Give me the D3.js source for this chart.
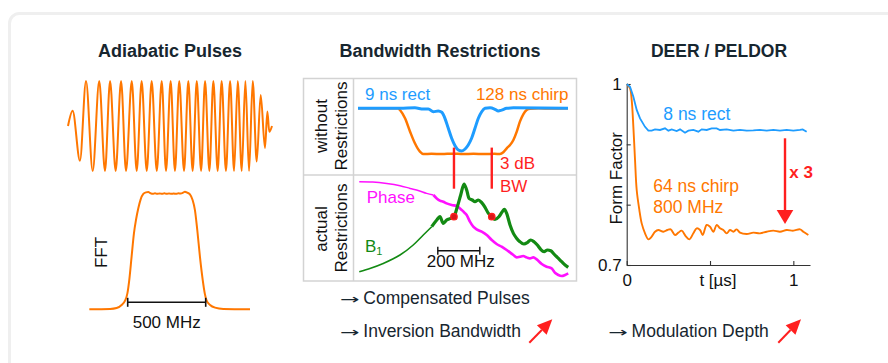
<!DOCTYPE html>
<html>
<head>
<meta charset="utf-8">
<script src="https://cdn.jsdelivr.net/npm/d3@7"></script>
<style>
  html, body { margin: 0; padding: 0; background: #ffffff; }
  svg { display: block; font-family: "Liberation Sans", Arial, Helvetica, sans-serif; }
</style>
</head>
<body>
<svg id="fig" width="888" height="363"></svg>
<script>
// ---------- Adiabatic pulse: waveform extrema (time in ns, normalised amplitude)
const pulseT = [0, 2.9, 7.5,
  11.3, 15.5, 19.6, 23.2, 26.4, 29.9, 33.3, 36.4, 40.0, 43.1, 46.2, 49.4, 52.5, 55.7, 58.8, 61.5,
  64.4, 67.1, 69.8, 72.8, 75.5, 78.2, 80.8, 83.5, 86.0, 88.7, 91.2, 93.9, 96.4, 99.1, 101.7, 104.2,
  106.5, 109.0, 111.3, 113.6, 115.9,
  118.4, 120.9, 123.6, 125.1, 126.3, 128];
const pulseAmp = [0, 0.34, -0.77,
  1, -1, 1, -1, 1, -1, 1, -1, 1, -1, 1, -1, 1, -1, 1, -1,
  1, -1, 1, -1, 1, -1, 1, -1, 1, -1, 1, -1, 1, -1, 1, -1,
  1, -1, 1, -1, 1,
  -0.79, 0.69, -0.49, 0.32, -0.13, 0];

// ---------- FFT of the pulse (MHz, normalised magnitude)
const fftFreq = [-496, -363, -321, -289, -267, -252, -240, -225, -210, -197,
  -182, -167, -150, -133, -118, -103, -90, -75, -60, -45,
  -30, -15, 0, 15, 30, 45, 60, 75, 90, 105,
  117, 132, 149, 166, 181, 196, 213, 231, 244, 256,
  278, 310, 363, 534];
const fftAmp = [0, 0.003, 0.011, 0.037, 0.074, 0.137, 0.251, 0.452, 0.652, 0.766,
  0.866, 0.943, 0.989, 1.003, 1.006, 0.995, 0.99, 0.995, 0.99, 0.994,
  0.99, 0.995, 0.99, 0.994, 0.99, 0.993, 0.99, 0.995, 0.993, 1.0,
  1.009, 1.0, 0.986, 0.937, 0.851, 0.68, 0.452, 0.251, 0.137, 0.074,
  0.037, 0.014, 0.003, 0];
const fftBar = [-250, 250];           // 500 MHz bar

// ---------- Inversion profiles without restrictions (MHz offset, Mz)
const rectProfF = [-500, -300, -229, -189, -165, -141, -118, -101, -86, -70,
  -54, -38, -22, -6, 10, 25, 41, 57, 73, 89,
  105, 129, 152, 168, 184, 208, 240, 500];
const rectProfMz = [1, 1, 1.02, 0.97, 0.97, 0.85, 0.88, 0.825, 0.562, 0.125,
  -0.313, -0.637, -0.825, -0.869, -0.781, -0.606, -0.313, 0.125, 0.562, 0.85,
  1.0, 1.02, 0.956, 0.88, 0.92, 1.0, 1.02, 1.0];
const chirpProfF = [-500, -308, -300, -276, -252, -229, -205, -189, -150, -100,
  -50, 0, 50, 100, 150, 176, 192, 208, 224, 240,
  256, 271, 287, 303, 319, 360, 420, 500];
const chirpProfMz = [1, 1, 0.926, 0.562, -0.024, -0.532, -0.9, -1, -0.99, -1,
  -0.985, -1, -0.99, -1, -0.99, -1, -0.926, -0.75, -0.606, -0.387,
  -0.024, 0.414, 0.737, 0.926, 0.98, 1, 0.99, 1];

// ---------- Actual restrictions: phase and B1 (MHz offset, relative level)
const phaseF = [-494, -430, -363, -300, -252, -210, -173, -141, -125, -110,
  -94, -78, -54, -30, -14, 2, 17.5, 33, 49, 65,
  89, 113, 137, 160, 184, 208, 240, 256, 271, 287,
  303, 319, 335, 351, 375, 398, 422, 438, 454, 470,
  486, 501];
const phaseVal = [95, 94.7, 93.3, 91, 88.3, 86, 83.3, 81.7, 78.3, 76,
  75, 73.3, 71.7, 70.7, 68.3, 65, 61.7, 55, 50, 47.3,
  45, 41.7, 36.7, 32.7, 30, 26.7, 21.7, 19.3, 20, 20.7,
  19.3, 18.3, 19.3, 17.3, 12.7, 10, 8.3, 4, 1.7, 0.7,
  1.7, 3.3];
const b1F = [-494, -440, -380, -300, -237, -189, -149, -125, -110, -94,
  -78, -59, -43, -27, -11, 5, 17.5, 28.6, 44, 57,
  73, 89, 105, 121, 137, 152, 171, 187, 197, 208,
  224, 240, 256, 271, 290, 306, 322, 338, 354, 370,
  386, 402, 418, 433, 449, 470, 486, 501];
const b1Val = [5, 8.5, 13.3, 21.7, 31.7, 41.7, 50, 56.7, 60, 53.3,
  56.7, 58.3, 60, 70, 81.7, 92.7, 86.7, 78.3, 76.7, 75,
  76.7, 74, 69.3, 63.3, 60, 57.3, 60, 65, 67.3, 63.3,
  51.7, 43.3, 38.3, 35, 32.7, 34, 36.7, 35, 31.7, 27.3,
  25, 26.7, 26, 22.7, 19.3, 15, 11.7, 9.3];
const bwEdges = [-43, 137];          // 3 dB bandwidth edges
const scaleBar = [-120, 80];         // 200 MHz bar

// ---------- DEER form factors (time in µs)
const rectDeerT = [0, 0.02, 0.04, 0.06, 0.08, 0.11, 0.13, 0.15, 0.17, 0.20,
  0.23, 0.25, 0.27, 0.30, 0.32, 0.35, 0.37, 0.40, 0.43, 0.45,
  0.48, 0.51, 0.54, 0.56, 0.60, 0.64, 0.68, 0.72, 0.76, 0.80,
  0.84, 0.88, 0.92, 0.96, 1.00, 1.04, 1.056, 1.08];
const rectDeerF = [1.0, 0.9955, 0.979, 0.957, 0.943, 0.929, 0.9226, 0.9226, 0.9248, 0.9238,
  0.9265, 0.9226, 0.9248, 0.922, 0.9248, 0.9193, 0.9226, 0.9238, 0.921, 0.9248,
  0.9238, 0.9265, 0.9265, 0.9238, 0.9248, 0.9226, 0.9238, 0.9226, 0.923, 0.9238,
  0.9226, 0.9238, 0.9226, 0.9238, 0.9226, 0.9238, 0.9248, 0.921];
const chirpDeerT = [0, 0.02, 0.03, 0.04, 0.05, 0.06, 0.076, 0.09, 0.11, 0.13,
  0.15, 0.17, 0.19, 0.22, 0.244, 0.264, 0.29, 0.31, 0.33, 0.356,
  0.376, 0.40, 0.42, 0.44, 0.456, 0.48, 0.50, 0.52, 0.54, 0.56,
  0.58, 0.60, 0.62, 0.64, 0.66, 0.68, 0.72, 0.76, 0.80, 0.84,
  0.88, 0.92, 0.96, 1.00, 1.04, 1.06, 1.09];
const chirpDeerF = [1.0, 0.9927, 0.9734, 0.929, 0.874, 0.8243, 0.7911, 0.769, 0.7525, 0.7425,
  0.747, 0.7552, 0.758, 0.7552, 0.758, 0.7591, 0.7497, 0.7536, 0.7569, 0.747,
  0.7425, 0.7525, 0.7608, 0.758, 0.7497, 0.7663, 0.7635, 0.7552, 0.7663, 0.7608,
  0.758, 0.7525, 0.758, 0.7552, 0.7591, 0.7536, 0.7514, 0.7536, 0.7525, 0.7552,
  0.7569, 0.7552, 0.758, 0.7569, 0.7591, 0.7552, 0.7497];
const deerYTicks = [0.7, 0.8, 0.9, 1];
const deerXTicks = [0, 0.5, 1];

// ---------- colours
const ORANGE = "#ff7700", BLUE = "#1e9cff", MAGENTA = "#ff10ff",
      GREEN = "#138a13", RED = "#ff1f1f", INK = "#17262f", BLACK = "#111";

const svg = d3.select("#fig");
const zip = (a, b) => a.map((v, i) => [v, b[i]]);

function label(x, y, str, o = {}) {
  const t = svg.append("text")
    .attr("x", x).attr("y", y)
    .attr("font-size", o.size || 17)
    .attr("font-weight", o.bold ? "bold" : "normal")
    .attr("fill", o.fill || BLACK)
    .attr("text-anchor", o.anchor || "start")
    .text(str);
  if (o.rotate) t.attr("x", 0).attr("y", 0).attr("transform", `translate(${x},${y}) rotate(-90)`);
  return t;
}

// conclusion line: a long thin arrow glyph followed by the statement
function conclusion(x, y, str) {
  const arrow = svg.append("text")
    .attr("font-family", "DejaVu Sans").attr("font-size", 14).attr("fill", INK)
    .text("\u2192");
  const w = arrow.node().getComputedTextLength() || 11.7;
  arrow.attr("transform", `translate(${x},${y - 0.5}) scale(${19.5 / w},1)`);
  label(x + 23.3, y, str, { size: 17.5, fill: INK });
}

// card outline
svg.append("rect")
  .attr("x", 9.5).attr("y", 13.5).attr("width", 920).attr("height", 420).attr("rx", 10)
  .attr("fill", "#ffffff").attr("stroke", "#efefef").attr("stroke-width", 3);

// ================= Panel 1: adiabatic pulse + FFT
label(170, 56.5, "Adiabatic Pulses", { size: 18, bold: true, fill: INK, anchor: "middle" });

const px = d3.scaleLinear().domain([0, 128]).range([68, 272]);
const py = d3.scaleLinear().domain([-1, 1]).range([171, 81]);
svg.append("path")
  .attr("d", d3.line().x(d => px(d[0])).y(d => py(d[1])).curve(d3.curveMonotoneX)(zip(pulseT, pulseAmp)))
  .attr("fill", "none").attr("stroke", ORANGE).attr("stroke-width", 2);

const fx = d3.scaleLinear().domain([-500, 500]).range([88.7, 244.7]);
const fy = d3.scaleLinear().domain([0, 1]).range([309.3, 192.7]);
svg.append("path")
  .attr("d", d3.line().x(d => fx(d[0])).y(d => fy(d[1])).curve(d3.curveMonotoneX)(zip(fftFreq, fftAmp)))
  .attr("fill", "none").attr("stroke", ORANGE).attr("stroke-width", 2);

const barY = fy(0.06);
const gBar = svg.append("g").attr("stroke", BLACK).attr("stroke-width", 1.6);
gBar.append("line").attr("x1", fx(fftBar[0])).attr("x2", fx(fftBar[1])).attr("y1", barY).attr("y2", barY);
fftBar.forEach(f => gBar.append("line").attr("x1", fx(f)).attr("x2", fx(f)).attr("y1", barY - 4.5).attr("y2", barY + 4.5));
label(fx(0), 328, "500 MHz", { anchor: "middle" });
label(107.3, 252.5, "FFT", { rotate: true, anchor: "middle" });

// ================= Panel 2: bandwidth restrictions
label(440, 56.5, "Bandwidth Restrictions", { size: 18, bold: true, fill: INK, anchor: "middle" });

const grid = svg.append("g").attr("stroke", "#d3d3d3").attr("stroke-width", 1.5).attr("fill", "none");
grid.append("rect").attr("x", 303.5).attr("y", 78.5).attr("width", 273).attr("height", 202.5);
grid.append("line").attr("x1", 353.5).attr("x2", 353.5).attr("y1", 78.5).attr("y2", 281);
grid.append("line").attr("x1", 303.5).attr("x2", 576.5).attr("y1", 175).attr("y2", 175);

label(327, 126, "without", { rotate: true, anchor: "middle" });
label(346.7, 126, "Restrictions", { rotate: true, anchor: "middle" });
label(326.7, 229, "actual", { rotate: true, anchor: "middle" });
label(346.7, 228, "Restrictions", { rotate: true, anchor: "middle" });

const bx = d3.scaleLinear().domain([-500, 500]).range([358, 568]);
const topY = d3.scaleLinear().domain([-1, 1]).range([154, 108.3]);
const botY = d3.scaleLinear().domain([0, 100]).range([276.7, 176.7]);

const profLine = d3.line().x(d => bx(d[0])).y(d => topY(d[1])).curve(d3.curveMonotoneX);
svg.append("path").attr("d", profLine(zip(chirpProfF, chirpProfMz)))
  .attr("fill", "none").attr("stroke", ORANGE).attr("stroke-width", 2.5);
svg.append("path").attr("d", profLine(zip(rectProfF, rectProfMz)))
  .attr("fill", "none").attr("stroke", BLUE).attr("stroke-width", 3);

label(365, 100, "9 ns rect", { fill: BLUE });
label(568.5, 100, "128 ns chirp", { fill: ORANGE, anchor: "end" });

const restLine = d3.line().x(d => bx(d[0])).y(d => botY(d[1])).curve(d3.curveMonotoneX);
const phasePts = zip(phaseF, phaseVal), b1Pts = zip(b1F, b1Val);
svg.append("path").attr("d", restLine(phasePts.slice(0, 8)))
  .attr("fill", "none").attr("stroke", MAGENTA).attr("stroke-width", 1.5);
svg.append("path").attr("d", restLine(phasePts.slice(7)))
  .attr("fill", "none").attr("stroke", MAGENTA).attr("stroke-width", 2.6);
svg.append("path").attr("d", restLine(b1Pts.slice(0, 7)))
  .attr("fill", "none").attr("stroke", GREEN).attr("stroke-width", 1.6);
svg.append("path").attr("d", restLine(b1Pts.slice(6)))
  .attr("fill", "none").attr("stroke", GREEN).attr("stroke-width", 3.2);

// 3 dB bandwidth markers
bwEdges.forEach(f => {
  svg.append("line").attr("x1", bx(f)).attr("x2", bx(f))
    .attr("y1", topY(-0.72)).attr("y2", botY(88))
    .attr("stroke", RED).attr("stroke-width", 2.4);
  svg.append("circle").attr("cx", bx(f)).attr("cy", botY(60)).attr("r", 3.2)
    .attr("fill", "#d81818").attr("stroke", RED).attr("stroke-width", 1.3);
});
label(500, 169, "3 dB", { fill: RED });
label(500, 191.7, "BW", { fill: RED });

label(366.7, 203.3, "Phase", { fill: MAGENTA });
const b1Label = label(365, 251.7, "B", { fill: GREEN });
b1Label.append("tspan").attr("font-size", 11).attr("dy", 3).text("1");

const sbY = 250.7;
const gSb = svg.append("g").attr("stroke", BLACK).attr("stroke-width", 1.4);
gSb.append("line").attr("x1", bx(scaleBar[0])).attr("x2", bx(scaleBar[1])).attr("y1", sbY).attr("y2", sbY);
scaleBar.forEach(f => gSb.append("line").attr("x1", bx(f)).attr("x2", bx(f)).attr("y1", sbY - 4).attr("y2", sbY + 4));
label((bx(scaleBar[0]) + bx(scaleBar[1])) / 2 + 2, 266.7, "200 MHz", { anchor: "middle" });

conclusion(340, 304, "Compensated Pulses");
conclusion(340, 337.3, "Inversion Bandwidth");

// ================= Panel 3: DEER / PELDOR
label(719, 56.5, "DEER / PELDOR", { size: 17.5, bold: true, fill: INK, anchor: "middle" });

const dx = d3.scaleLinear().domain([0, 1.1]).range([626.7, 810]);
const dy = d3.scaleLinear().domain([0.7, 1]).range([265, 84]);

const yAxis = svg.append("g").attr("transform", `translate(${dx(0)},0)`)
  .call(d3.axisLeft(dy).tickValues(deerYTicks).tickSizeInner(-4).tickSizeOuter(0).tickPadding(5)
    .tickFormat(d => (d === 1 ? "1" : d === 0.7 ? "0.7" : "")));
const xAxis = svg.append("g").attr("transform", `translate(0,${dy(0.7)})`)
  .call(d3.axisBottom(dx).tickValues(deerXTicks).tickSizeInner(-4).tickSizeOuter(0).tickPadding(9)
    .tickFormat(d => (d === 0 ? "0" : d === 1 ? "1" : "")));
[yAxis, xAxis].forEach(g => {
  g.attr("font-family", null).attr("font-size", null);
  g.selectAll("path, line").attr("stroke", "#333").attr("stroke-width", 1.1);
  g.selectAll("text").attr("font-size", 17).attr("fill", BLACK);
});
label(718, 286, "t [\u00b5s]", { anchor: "middle" });
label(621.7, 178.3, "Form Factor", { rotate: true, anchor: "middle" });

svg.append("path")
  .attr("d", d3.line().x(d => dx(d[0])).y(d => dy(d[1])).curve(d3.curveCatmullRom)(zip(chirpDeerT, chirpDeerF)))
  .attr("fill", "none").attr("stroke", ORANGE).attr("stroke-width", 1.9);
svg.append("path")
  .attr("d", d3.line().x(d => dx(d[0])).y(d => dy(d[1])).curve(d3.curveLinear)(zip(rectDeerT, rectDeerF)))
  .attr("fill", "none").attr("stroke", BLUE).attr("stroke-width", 1.8);

label(663.3, 120, "8 ns rect", { fill: BLUE, size: 17.5 });
label(653.3, 191.7, "64 ns chirp", { fill: ORANGE, size: 17.5 });
label(653.3, 213.3, "800 MHz", { fill: ORANGE, size: 17.5 });

// modulation depth gain arrow
const ax = dx(0.95), ay0 = dy(0.91), ay1 = dy(0.768);
svg.append("line").attr("x1", ax).attr("x2", ax).attr("y1", ay0).attr("y2", ay1 - 12)
  .attr("stroke", RED).attr("stroke-width", 2.4);
svg.append("path").attr("d", `M${ax - 8.3},${ay1 - 14}L${ax + 8.3},${ay1 - 14}L${ax},${ay1}Z`).attr("fill", RED);
label(789.3, 178.3, "x 3", { fill: RED, bold: true, size: 17 });

conclusion(608.3, 337.3, "Modulation Depth");

// "increase" arrows next to the conclusions
function upArrow(x0, y0, x1, y1) {
  const ang = Math.atan2(y1 - y0, x1 - x0), L = 15, W = 6.8;
  const bxp = x1 - L * Math.cos(ang), byp = y1 - L * Math.sin(ang);
  svg.append("line").attr("x1", x0).attr("y1", y0).attr("x2", bxp).attr("y2", byp)
    .attr("stroke", RED).attr("stroke-width", 2);
  const nx = -Math.sin(ang) * W, ny = Math.cos(ang) * W;
  svg.append("path").attr("d", `M${x1},${y1}L${bxp + nx},${byp + ny}L${bxp - nx},${byp - ny}Z`).attr("fill", RED);
}
upArrow(529.3, 342.7, 552.3, 319.3);
upArrow(778.3, 342.7, 801, 319.3);
</script>
</body>
</html>
